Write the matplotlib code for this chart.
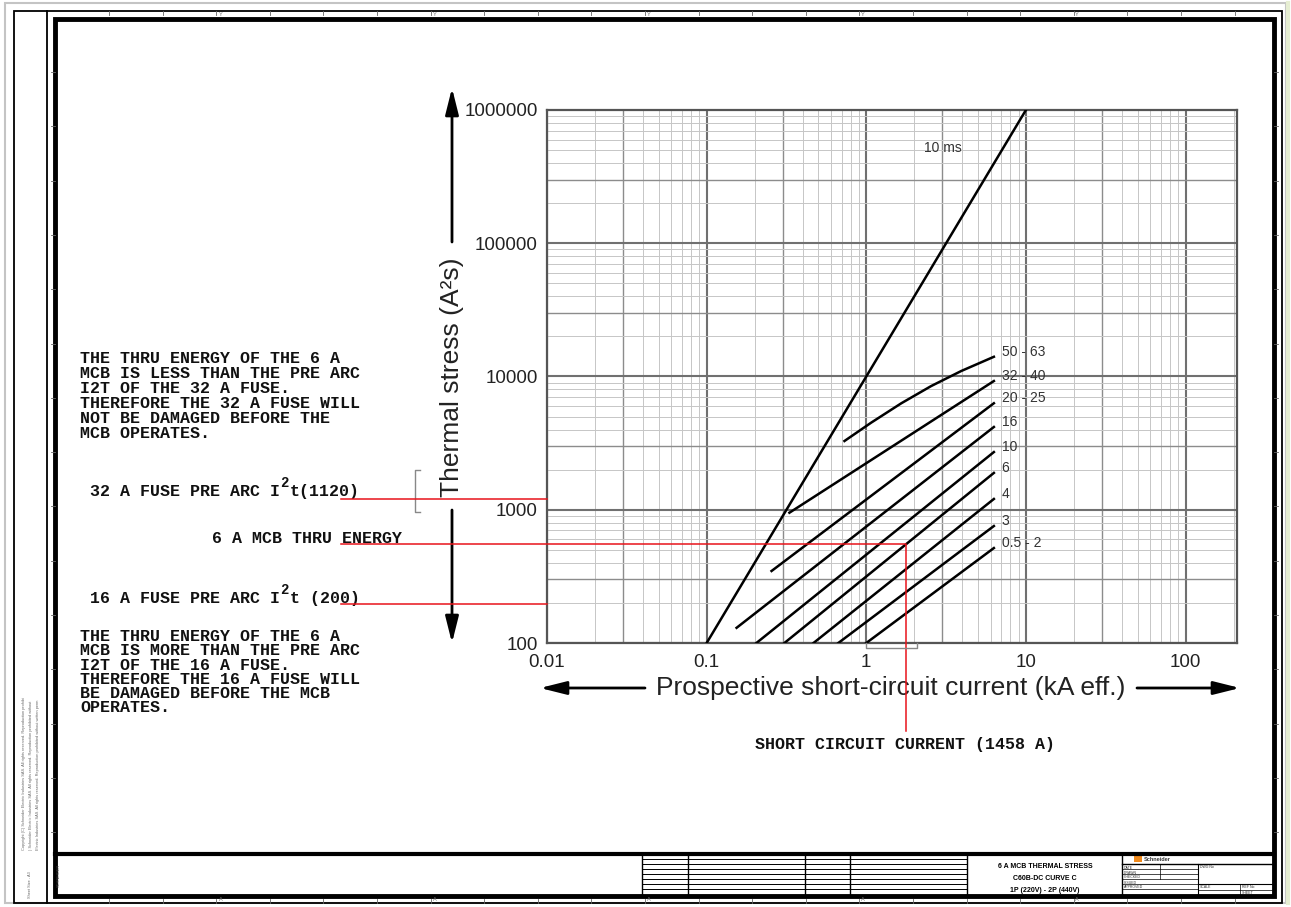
import matplotlib
matplotlib.use('Agg')
import matplotlib.pyplot as plt
import numpy as np
from matplotlib.patches import Rectangle
from matplotlib.ticker import FixedLocator, NullLocator

plt.rcParams['font.family'] = ['Liberation Sans', 'DejaVu Sans']

W, H = 1291, 907

# --- chart data (current in kA eff., thermal stress in A2s) ---
ms10_i = [0.1, 10.0]
ms10_e = [100, 1000000]

mcb_labels = ['50 - 63', '32 - 40', '20 - 25', '16', '10', '6', '4', '3', '0.5 - 2']
mcb_i = [
    [0.73, 1.075, 1.655, 2.55, 3.93, 6.3],
    [0.33, 6.3],
    [0.255, 6.3],
    [0.154, 6.3],
    [0.205, 6.3],
    [0.307, 6.3],
    [0.467, 6.3],
    [0.668, 6.3],
    [1.0, 6.3],
]
mcb_e = [
    [3280, 4510, 6290, 8480, 10990, 14060],
    [950, 9250],
    [347, 6300],
    [130, 4180],
    [100, 2710],
    [100, 1890],
    [100, 1205],
    [100, 755],
    [100, 516],
]

x_ticks = [0.01, 0.1, 1, 10, 100]
x_ticklabels = ['0.01', '0.1', '1', '10', '100']
y_ticks = [100, 1000, 10000, 100000, 1000000]
y_ticklabels = ['100', '1000', '10000', '100000', '1000000']

fuse32_i2t = 1200      # red line (label says 1120)
mcb6_thru = 550
fuse16_i2t = 195
isc_ka = 1.78

note_top = ["THE THRU ENERGY OF THE 6 A",
            "MCB IS LESS THAN THE PRE ARC",
            "I2T OF THE 32 A FUSE.",
            "THEREFORE THE 32 A FUSE WILL",
            "NOT BE DAMAGED BEFORE THE",
            "MCB OPERATES."]
note_bot = ["THE THRU ENERGY OF THE 6 A",
            "MCB IS MORE THAN THE PRE ARC",
            "I2T OF THE 16 A FUSE.",
            "THEREFORE THE 16 A FUSE WILL",
            "BE DAMAGED BEFORE THE MCB",
            "OPERATES."]

fig = plt.figure(figsize=(W / 100, H / 100), dpi=100)

# drawing sheet in pixel coords
bg = fig.add_axes([0, 0, 1, 1])
bg.set_xlim(0, W)
bg.set_ylim(H, 0)
bg.axis('off')

bg.add_patch(Rectangle((5, 3), 1281, 900, fill=False, ec='#c4c4c4', lw=1.5))
bg.plot([1288, 1288], [3, 903], color='#e6eed2', lw=3)
bg.add_patch(Rectangle((14, 11), 1268, 892, fill=False, ec='black', lw=1.3))
bg.plot([47, 47], [11, 903], color='black', lw=1.3)
bg.add_patch(Rectangle((55, 19), 1219, 877, fill=False, ec='black', lw=3.5))

# border ticks
for x in np.arange(109, 1260, 53.6):
    bg.plot([x, x], [11, 15], color='#666', lw=0.6)
    bg.plot([x, x], [899, 903], color='#666', lw=0.6)
for x in [221, 435, 649, 863, 1077]:
    bg.text(x, 15, 'Y', fontsize=4, color='#777', ha='center', va='center')
    bg.text(x, 899.5, 'A', fontsize=4, color='#777', ha='center', va='center')
for y in np.arange(72, 880, 54.3):
    bg.plot([51, 55], [y, y], color='#666', lw=0.6)
    bg.plot([1274, 1278], [y, y], color='#666', lw=0.6)

# left strip copyright text
for k, xx in enumerate([24, 31, 38]):
    bg.text(xx, 850, 'Copyright (C) Schneider Electric Industries SAS. All rights reserved. '
            'Reproduction prohibited without written permission.'[k * 12:k * 12 + 90],
            rotation=90, fontsize=2.8, color='#666', ha='center', va='bottom')
bg.text(30, 898, 'Sheet Size - A3', rotation=90, fontsize=2.8, color='#666', ha='center', va='bottom')
bg.text(59, 875, 'SCHNEIDER', rotation=90, fontsize=2.8, color='#444', ha='center', va='center')

# title block
bg.plot([55, 1274], [854, 854], color='black', lw=3)
for x in [642, 688, 805, 850, 967, 1122]:
    bg.plot([x, x], [854, 896], color='black', lw=1)
for y in np.arange(859, 894, 5):
    bg.plot([642, 967], [y, y], color='black', lw=0.7)
bg.plot([1122, 1274], [864, 864], color='black', lw=1)
bg.plot([1198, 1198], [864, 896], color='black', lw=0.8)
for y in [869, 874, 879, 884, 889]:
    bg.plot([1122, 1198], [y, y], color='black', lw=0.5)
bg.plot([1160, 1160], [864, 879], color='black', lw=0.5)
bg.plot([1198, 1274], [884, 884], color='black', lw=0.8)
bg.plot([1198, 1274], [890, 890], color='black', lw=0.5)
bg.plot([1240, 1240], [884, 896], color='black', lw=0.5)
for y, s in zip([868, 872.5, 877.5, 882.5, 887.5], ['DATE', 'DRAWN', 'CHECKED', 'ISSUED', 'APPROVED']):
    bg.text(1124, y, s, fontsize=2.5, color='#333', va='center')
bg.text(1200, 867, 'DWG No', fontsize=2.5, color='#333', va='center')
bg.text(1200, 887, 'SCALE', fontsize=2.5, color='#333', va='center')
bg.text(1242, 887, 'REF No', fontsize=2.5, color='#333', va='center')
bg.text(1242, 893, 'SHEET', fontsize=2.5, color='#333', va='center')
bg.add_patch(Rectangle((1134, 856), 8, 6, color='#f08a1c', lw=0))
bg.text(1144, 859.5, 'Schneider', fontsize=4, color='#333', va='center', weight='bold')
title_lines = ['6 A MCB THERMAL STRESS', 'C60B-DC CURVE C', '1P (220V) - 2P (440V)']
for k, s in enumerate(title_lines):
    bg.text(1045, 866 + k * 12.5, s, fontsize=5, weight='bold', ha='center', va='center')

# notes in monospace bold
mono = dict(family='Liberation Mono', weight='bold', fontsize=12, color='#111')
for k, s in enumerate(note_top):
    bg.text(80, 363 + k * 15, s, va='baseline', **mono)
for k, s in enumerate(note_bot):
    bg.text(80, 641 + k * 14.3, s, va='baseline', **mono)

cw = 10.0
sup = dict(family='Liberation Mono', weight='bold', fontsize=10, color='#111')
bg.text(90, 496, '32 A FUSE PRE ARC I', va='baseline', **mono)
bg.text(90 + 19 * cw, 487, '2', va='baseline', **sup)
bg.text(90 + 20 * cw, 496, 't(1120)', va='baseline', **mono)
bg.text(402, 543, '6 A MCB THRU ENERGY', va='baseline', ha='right', **mono)
bg.text(90, 603, '16 A FUSE PRE ARC I', va='baseline', **mono)
bg.text(90 + 19 * cw, 594, '2', va='baseline', **sup)
bg.text(90 + 20 * cw, 603, 't (200)', va='baseline', **mono)
bg.text(905, 745, 'SHORT CIRCUIT CURRENT (1458 A)', va='center', ha='center', **mono)

# bracket near axis label
bg.plot([420, 415, 415, 420], [470, 470, 512, 512], color='#888', lw=1)

# axis labels with arrows
bg.text(452, 377, 'Thermal stress (A\u00b2s)', rotation=90, fontsize=19, ha='center', va='center', color='#222')
bg.text(891, 688, 'Prospective short-circuit current (kA eff.)', fontsize=19, ha='center', va='center', color='#222')
arr = dict(arrowstyle='-|>,head_length=1.0,head_width=0.25', color='black', lw=2, mutation_scale=16,
           shrinkA=0, shrinkB=0)
bg.annotate('', xy=(452, 88), xytext=(452, 242), arrowprops=arr)
bg.annotate('', xy=(452, 643), xytext=(452, 510), arrowprops=arr)
bg.annotate('', xy=(540, 688), xytext=(645, 688), arrowprops=arr)
bg.annotate('', xy=(1240, 688), xytext=(1137, 688), arrowprops=arr)

# --- the chart ---
ax = fig.add_axes([547 / W, 1 - 643 / H, 690 / W, 533 / H])
ax.set_xscale('log')
ax.set_yscale('log')
ax.set_xlim(0.01, 210)
ax.set_ylim(100, 1000000)

for d in [0.01, 0.1, 1, 10, 100]:
    for m in range(2, 10):
        if d * m < 210:
            ax.axvline(d * m, color='#8c8c8c' if m == 3 else '#c6c6c6', lw=1.0 if m == 3 else 0.7, zorder=1)
    ax.axvline(d, color='#707070', lw=1.5, zorder=1)
for d in [100, 1000, 10000, 100000]:
    for m in range(2, 10):
        ax.axhline(d * m, color='#8c8c8c' if m == 3 else '#c6c6c6', lw=1.0 if m == 3 else 0.7, zorder=1)
    ax.axhline(d, color='#707070', lw=1.5, zorder=1)

ax.plot(ms10_i, ms10_e, color='black', lw=1.8, zorder=3)
ax.text(2.3, 520000, '10 ms', fontsize=10, color='#333', va='center')
for lab, xi, ei in zip(mcb_labels, mcb_i, mcb_e):
    ax.plot(xi, ei, color='black', lw=1.8, zorder=3)
    ax.text(xi[-1] * 1.12, ei[-1] * 1.09, lab, fontsize=10, color='#333', va='center')

# red reference lines
red = dict(color='#e8141b', lw=1.1, clip_on=False, zorder=4)
ax.plot([5.1e-4, 0.01], [fuse32_i2t, fuse32_i2t], **red)
ax.plot([5.1e-4, 0.01], [fuse16_i2t, fuse16_i2t], **red)
ax.plot([5.1e-4, isc_ka, isc_ka], [mcb6_thru, mcb6_thru, 22], **red)
ax.plot([1.0, 1.0, 2.08, 2.08], [100, 92, 92, 100], color='#888', lw=1, clip_on=False, zorder=4)

for s in ax.spines.values():
    s.set_color('#555')
    s.set_linewidth(1.6)
ax.xaxis.set_major_locator(FixedLocator(x_ticks))
ax.xaxis.set_minor_locator(NullLocator())
ax.yaxis.set_major_locator(FixedLocator(y_ticks))
ax.yaxis.set_minor_locator(NullLocator())
ax.set_xticklabels(x_ticklabels)
ax.set_yticklabels(y_ticklabels)
ax.tick_params(length=0, labelsize=13.5, colors='#222')
ax.tick_params(axis='y', pad=6.5)
ax.tick_params(axis='x', pad=8)

fig.savefig('out.png', dpi=100)
